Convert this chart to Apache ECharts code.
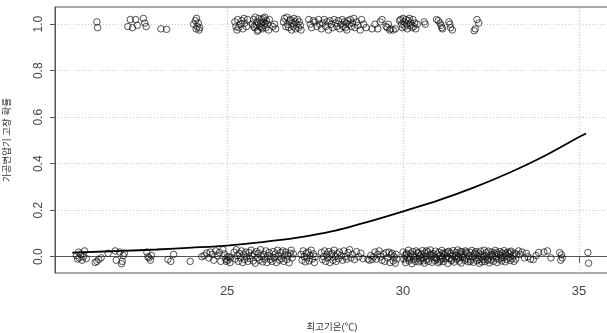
<!DOCTYPE html>
<html>
<head>
<meta charset="utf-8">
<script src="https://cdn.jsdelivr.net/npm/echarts@6/dist/echarts.min.js"></script>
<style>html,body{margin:0;padding:0;background:#fff}#c{width:607px;height:333px}</style>
</head>
<body>
<div id="c"></div>
<script>
const xTicks = [25, 30, 35];
const yTicks = [0, 0.2, 0.4, 0.6, 0.8, 1.0];
const yTickLabels = ['0.0', '0.2', '0.4', '0.6', '0.8', '1.0'];
const xTitle = '최고기온(℃)';
const yTitle = '가공변압기 고장 확률';

// fitted probability curve
const curveX = [20.6, 21, 22, 23, 24, 25, 26, 27, 28, 29, 30, 31, 32, 33, 34, 35, 35.2];
const curveY = [0.018, 0.020, 0.025, 0.031, 0.039, 0.048, 0.063, 0.082, 0.110, 0.150, 0.195, 0.242, 0.297, 0.360, 0.432, 0.515, 0.530];

// observed failures (jittered around 1)
const pointsAt1 = [
[21.30,1.01],[21.32,0.985],
[22.18,0.99],[22.25,1.02],[22.31,0.985],[22.40,1.02],[22.45,0.995],[22.62,1.025],[22.66,1.005],[22.70,0.99],
[23.12,0.98],[23.28,0.978],
[24.05,1.0],[24.10,1.015],[24.13,1.025],[24.15,0.99],[24.12,0.98],[24.20,0.975],[24.18,1.005],[24.22,0.985],
[25.22,1.01],[25.25,0.99],[25.30,1.02],[25.33,0.985],[25.38,1.0],[25.42,1.015],[25.45,0.98],[25.50,1.005],[25.55,0.99],[25.58,1.02],[25.28,0.975],[25.48,1.025],
[25.72,1.0],[25.75,1.02],[25.78,0.985],[25.80,1.03],[25.83,0.995],[25.85,1.01],[25.88,0.975],[25.90,1.025],[25.93,0.99],[25.95,1.005],[25.98,1.02],[26.00,0.98],[26.02,1.01],[26.05,0.995],[26.07,1.03],[26.10,0.985],[26.12,1.015],[26.15,1.0],[26.18,0.975],[26.20,1.02],[25.86,0.97],[26.03,1.025],[25.97,0.985],[26.08,1.005],[25.76,0.99],
[26.30,0.99],[26.35,1.0],[26.38,0.98],
[26.60,1.01],[26.63,1.025],[26.67,0.99],[26.70,1.03],[26.72,1.0],[26.75,0.985],[26.78,1.015],[26.80,1.02],[26.83,0.975],[26.85,1.005],[26.88,0.99],[26.90,1.025],[26.93,1.01],[26.95,0.98],[26.98,1.0],[27.00,1.02],[27.03,0.985],[27.05,1.01],[27.08,0.995],[27.10,0.975],
[27.32,1.02],[27.36,1.0],[27.40,0.985],[27.45,1.015],[27.50,1.01],[27.55,0.99],[27.60,1.02],[27.63,1.0],[27.68,0.98],[27.72,1.005],[27.76,1.02],[27.80,0.99],[27.84,1.01],[27.88,0.975],[27.92,1.015],[27.96,1.0],[28.00,0.985],[28.04,1.02],[28.08,1.005],[28.12,0.99],[28.16,1.015],[28.20,0.98],
[28.24,1.0],[28.27,1.02],[28.30,0.99],[28.33,1.01],[28.36,0.985],[28.38,1.005],[28.40,0.975],[28.43,1.015],[28.46,1.0],[28.50,1.02],[28.53,0.99],[28.56,1.005],[28.60,1.025],[28.63,0.985],[28.68,1.01],[28.72,0.995],[28.78,0.975],[28.82,1.02],[28.88,1.0],[28.95,0.985],
[29.12,0.98],[29.20,1.0],[29.28,0.98],[29.35,1.01],[29.40,1.02],[29.52,0.99],[29.55,0.985],[29.58,1.0],[29.62,0.975],[29.65,0.98],[29.72,0.975],[29.78,0.98],
[29.90,1.015],[29.93,1.02],[29.96,1.0],[29.98,0.985],[30.00,1.025],[30.03,1.01],[30.05,0.99],[30.08,1.02],[30.10,1.0],[30.12,0.98],[30.15,1.015],[30.18,1.025],[30.20,0.995],[30.22,1.005],[30.25,0.985],[30.28,1.02],[30.30,0.99],[30.33,1.005],[30.36,0.98],[30.40,1.0],
[30.60,1.01],[30.63,1.0],
[30.95,1.02],[31.00,1.015],[31.05,1.005],[31.08,0.995],[31.10,0.985],[31.12,0.98],
[31.30,1.01],[31.33,1.0],[31.35,0.985],[31.40,0.975],
[32.10,1.02],[32.15,1.005],[32.05,0.98],[32.02,0.972]
];

// observed non-failures (jittered around 0)
const pointsAt0 = [
[20.72,0.005],[20.75,-0.01],[20.78,0.02],[20.80,-0.005],[20.84,0.012],[20.88,-0.015],[20.92,0.0],[20.95,0.025],[21.00,-0.008],
[21.25,-0.025],[21.30,-0.02],[21.35,-0.012],[21.42,-0.005],
[21.62,0.015],
[21.82,0.025],[21.85,-0.015],[21.95,0.02],[22.02,-0.02],[22.05,0.005],[22.08,0.015],[22.00,-0.03],
[22.72,0.02],[22.75,0.0],[22.78,-0.005],[22.82,-0.015],[22.85,0.005],
[23.32,-0.012],[23.40,-0.02],[23.48,0.01],
[23.95,-0.02],
[24.28,0.0],[24.35,0.005],[24.42,0.015],[24.48,-0.005],[24.52,0.02],[24.58,0.01],[24.62,-0.015],[24.68,0.025],[24.72,0.005],[24.78,0.018],[24.82,-0.02],[24.88,0.03],[24.92,0.012],[24.96,-0.01],[25.00,0.0],
[24.98,-0.02],[25.02,-0.015],[25.05,0.0],[25.08,-0.025],[25.10,-0.005],
[25.20,0.02],[25.23,-0.01],[25.26,0.03],[25.29,0.005],[25.32,-0.02],[25.35,0.015],[25.38,-0.005],[25.41,0.025],[25.44,-0.025],[25.47,0.01],[25.50,-0.012],[25.53,0.02],[25.56,0.0],[25.59,-0.02],[25.62,0.018],[25.65,-0.008],[25.68,0.028],[25.71,0.004],[25.74,-0.018],[25.77,0.012],[25.80,-0.028],[25.83,0.022],[25.86,-0.004],[25.89,0.015],[25.92,-0.015],[25.95,0.03],[25.98,0.0],[26.01,-0.022],[26.04,0.01],[26.07,-0.01],[26.10,0.025],[26.13,-0.025],[26.16,0.005],[26.19,0.018],[26.22,-0.012],[26.25,0.0],[26.28,-0.02],[26.31,0.022],[26.34,-0.005],[26.37,0.012],[26.40,-0.025],[26.43,0.028],[26.46,0.002],[26.49,-0.015],[26.52,0.018],[26.55,-0.008],[26.58,0.025],[26.61,-0.02],[26.64,0.008],[26.67,0.02],[26.70,-0.012],[26.73,0.004],[26.76,-0.026],[26.79,0.015],[26.82,0.028],[26.85,-0.005],[26.88,0.012],
[27.10,0.01],[27.13,-0.015],[27.16,0.025],[27.19,0.0],[27.22,-0.022],[27.25,0.015],[27.27,-0.005],[27.30,0.02],[27.33,-0.018],[27.36,0.005],[27.39,0.028],[27.42,-0.01],[27.45,0.012],[27.48,-0.025],[27.50,0.0],
[27.68,0.018],[27.71,-0.012],[27.74,0.0],[27.77,0.025],[27.80,-0.02],[27.83,0.01],[27.86,-0.005],[27.89,0.022],[27.92,-0.025],[27.95,0.008],[27.98,0.015],[28.01,-0.015],[28.04,0.028],[28.07,0.0],[28.10,-0.02],[28.13,0.012],[28.16,-0.008],[28.19,0.02],[28.24,0.005],[28.28,-0.015],[28.32,0.025],[28.36,0.0],[28.40,-0.01],[28.44,0.018],[28.48,0.03],[28.52,-0.005],[28.56,0.01],[28.62,-0.012],[28.68,0.022],[28.74,0.0],[28.80,0.015],[28.86,-0.008],
[29.00,-0.01],[29.04,-0.015],[29.08,0.005],[29.12,-0.012],[29.16,0.0],[29.20,0.02],[29.24,-0.01],[29.28,0.01],[29.32,0.025],[29.36,0.0],[29.40,-0.015],[29.44,0.012],[29.48,-0.02],[29.52,0.018],[29.56,-0.005],[29.60,0.02],[29.63,-0.025],[29.66,0.008],[29.69,0.015],[29.72,-0.018],[29.75,0.0],[29.78,-0.028],[29.80,0.01],[29.82,-0.01],
[30.00,0.02],[30.02,-0.01],[30.05,0.005],[30.07,-0.025],[30.10,0.015],[30.12,-0.005],[30.15,0.028],[30.17,-0.018],[30.20,0.0],[30.22,0.012],[30.25,-0.03],[30.27,0.022],[30.30,-0.012],[30.32,0.008],[30.35,-0.02],[30.37,0.025],[30.40,-0.008],[30.42,0.018],[30.45,-0.022],[30.47,0.003],
[30.50,-0.015],[30.52,0.01],[30.55,0.026],[30.57,-0.004],[30.60,-0.028],[30.62,0.016],[30.65,0.002],[30.67,-0.012],[30.70,0.021],[30.72,-0.02],[30.75,0.007],[30.77,0.029],[30.80,-0.006],[30.82,-0.024],[30.85,0.013],[30.87,0.0],[30.90,-0.016],[30.92,0.024],[30.95,-0.01],[30.97,0.011],
[31.00,-0.026],[31.02,0.019],[31.05,0.004],[31.07,-0.014],[31.10,0.027],[31.12,-0.002],[31.15,-0.021],[31.17,0.009],[31.20,0.017],[31.22,-0.009],[31.25,0.001],[31.27,-0.029],[31.30,0.023],[31.32,-0.007],[31.35,0.014],[31.37,-0.017],[31.40,0.006],[31.42,0.026],[31.45,-0.023],[31.47,-0.003],
[31.50,0.018],[31.52,-0.011],[31.55,0.029],[31.57,0.0],[31.60,-0.019],[31.62,0.012],[31.65,-0.027],[31.67,0.021],[31.70,-0.004],[31.72,0.008],[31.75,-0.015],[31.77,0.025],[31.80,-0.008],[31.82,0.015],[31.85,-0.022],[31.87,0.003],[31.90,0.019],[31.92,-0.013],[31.95,0.027],[31.97,-0.001],
[32.00,-0.024],[32.02,0.011],[32.05,-0.006],[32.07,0.022],[32.10,-0.017],[32.12,0.005],[32.15,0.016],[32.17,-0.028],[32.20,0.024],[32.22,-0.003],[32.25,0.009],[32.27,-0.012],[32.30,0.028],[32.32,-0.021],[32.35,0.002],[32.37,0.017],[32.40,-0.009],[32.42,0.024],[32.45,-0.026],[32.47,0.006],
[32.50,-0.014],[32.52,0.02],[32.55,0.0],[32.57,-0.02],[32.60,0.013],[32.62,0.027],[32.65,-0.007],[32.67,-0.025],[32.70,0.01],[32.72,-0.011],[32.75,0.022],[32.77,0.004],[32.80,-0.018],[32.82,0.016],[32.85,-0.004],[32.87,0.026],[32.90,-0.022],[32.92,0.007],[32.95,-0.012],[32.97,0.019],
[33.00,-0.002],[33.02,0.012],[33.05,-0.016],[33.07,0.024],[33.10,-0.008],[33.12,0.005],[33.15,-0.02],[33.17,0.015],[33.20,-0.01],[33.22,0.01],
[30.31,0.0],[30.44,0.015],[30.58,-0.018],[30.66,0.025],[30.79,0.01],[30.93,-0.005],[31.04,-0.02],[31.13,0.015],[31.26,0.02],[31.38,-0.01],[31.49,0.005],[31.58,-0.006],[31.68,0.0],[31.79,0.02],[31.91,-0.02],[32.04,0.016],[32.16,-0.012],[32.29,0.0],[32.41,-0.015],[32.53,0.01],[32.66,0.018],[32.79,-0.006],[32.91,0.015],[33.04,0.02],[30.18,-0.01],[30.09,0.01],[30.53,-0.005],[31.11,-0.008],[31.63,0.022],[32.24,-0.022],
[33.28,0.025],[33.32,0.01],[33.38,0.02],[33.45,-0.005],[33.50,0.015],[33.55,0.0],[33.62,-0.01],[33.70,-0.012],[33.78,0.005],[33.85,0.018],[34.00,0.02],[34.10,0.025],[34.20,-0.005],[34.45,0.018],[34.50,0.008],[34.52,-0.005],[34.48,-0.015],
[35.25,0.018],[35.27,-0.028]
];

const FONT = '"Liberation Sans", "Noto Sans CJK KR", sans-serif';
const chart = echarts.init(document.getElementById('c'), null, {renderer: 'canvas'});
const scatterStyle = {color: 'rgba(0,0,0,0)', borderColor: '#111', borderWidth: 0.9};
const gridLineStyle = {color: '#cccccc', type: [1, 2], width: 1};
chart.setOption({
  animation: false,
  backgroundColor: '#fff',
  grid: {left: 55, right: -2, top: 7, bottom: 60, show: true, borderColor: '#555', borderWidth: 1,
         backgroundColor: 'transparent', containLabel: false, outerBoundsMode: 'none'},
  xAxis: {
    type: 'value', min: 20.11, max: 35.85,
    name: xTitle, nameLocation: 'middle', nameGap: 50,
    nameTextStyle: {color: '#333', fontSize: 9.5, fontFamily: FONT},
    axisLine: {show: true, lineStyle: {color: '#555', width: 1}},
    axisTick: {show: true, length: 6, lineStyle: {color: '#555'}, customValues: xTicks},
    axisLabel: {color: '#444', fontSize: 13, fontFamily: FONT, margin: 12, customValues: xTicks},
    splitLine: {show: false}
  },
  yAxis: {
    type: 'value', min: -0.07, max: 1.074,
    name: yTitle, nameLocation: 'middle', nameGap: 43, nameRotate: 90,
    nameTextStyle: {color: '#333', fontSize: 9.5, fontFamily: FONT},
    axisLine: {show: true, lineStyle: {color: '#555', width: 1}},
    axisTick: {show: true, length: 5, lineStyle: {color: '#555'}, customValues: yTicks},
    axisLabel: {color: '#444', fontSize: 12, fontFamily: FONT, rotate: 90, margin: 10, customValues: yTicks,
      formatter: v => yTickLabels[yTicks.findIndex(t => Math.abs(t - v) < 1e-6)] ?? ''},
    splitLine: {show: false}
  },
  series: [
    {type: 'line', data: [], silent: true, z: 0,
     markLine: {silent: true, z: 0, zlevel: 0, symbol: 'none', label: {show: false}, lineStyle: gridLineStyle, animation: false,
       emphasis: {disabled: true},
       data: xTicks.map(v => ({xAxis: v})).concat(yTicks.map(v => ({yAxis: v})))}},
    {type: 'scatter', data: pointsAt0, symbol: 'circle', symbolSize: 6.5, itemStyle: scatterStyle, silent: true, z: 6},
    {type: 'scatter', data: pointsAt1, symbol: 'circle', symbolSize: 6.5, itemStyle: scatterStyle, silent: true, z: 6},
    {type: 'line', data: curveX.map((x, i) => [x, curveY[i]]), showSymbol: false, smooth: 0.3,
     lineStyle: {color: '#000', width: 1.8}, silent: true, z: 7}
  ]
});
</script>
</body>
</html>
